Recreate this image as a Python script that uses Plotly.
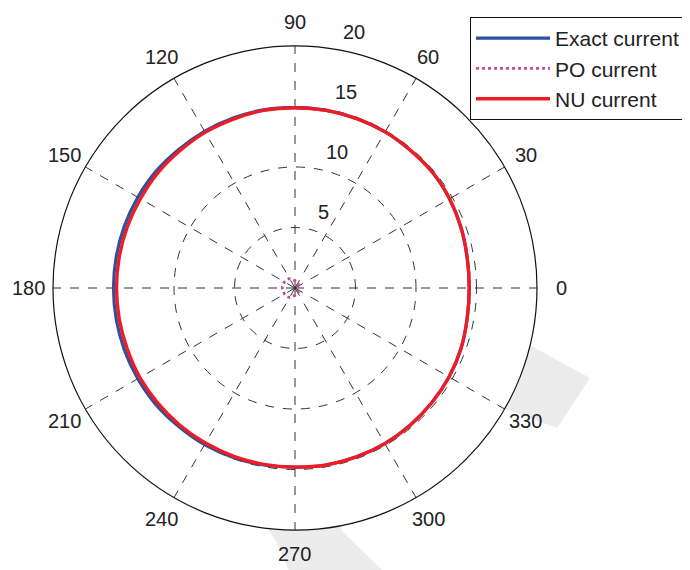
import math
import plotly.graph_objects as go

# ---- data ----
theta_deg = [0, 10, 20, 30, 40, 50, 60, 70, 80, 90, 100, 110, 120, 130, 140, 150, 160, 170, 180,
             190, 200, 210, 220, 230, 240, 250, 260, 270, 280, 290, 300, 310, 320, 330, 340, 350, 360]
exact_current = [14.4, 14.45, 14.6, 14.75, 14.85, 14.85, 14.9, 14.9, 14.9, 14.9, 14.95, 14.95, 14.95,
                 14.95, 15.0, 15.0, 15.0, 15.0, 15.0, 15.0, 15.0, 15.0, 15.0, 14.95, 14.95, 14.9,
                 14.85, 14.8, 14.85, 14.85, 14.85, 14.8, 14.75, 14.7, 14.6, 14.45, 14.4]
nu_current = [14.4, 14.45, 14.6, 14.75, 14.85, 14.85, 14.9, 14.9, 14.9, 14.9, 14.9, 14.85, 14.85,
              14.8, 14.8, 14.75, 14.75, 14.75, 14.75, 14.75, 14.75, 14.8, 14.8, 14.8, 14.8, 14.8,
              14.8, 14.8, 14.85, 14.85, 14.85, 14.8, 14.75, 14.7, 14.6, 14.45, 14.4]
po_theta = [0, 30, 60, 90, 120, 150, 180, 210, 240, 270, 300, 330, 360]
po_current = [0.2, 0.3, 0.5, 0.6, 0.9, 1.0, 1.05, 1.0, 0.9, 0.6, 0.5, 0.3, 0.2]

radial_ticks = [5, 10, 15, 20]
angular_ticks = [0, 30, 60, 90, 120, 150, 180, 210, 240, 270, 300, 330]
r_max = 20

FONT = "Liberation Sans, Arial, Helvetica, sans-serif"
TXT = "#222222"
BODY = 8  # default page margin of the html body, compensated below

W, H = 690, 570
cx, cy, R = 295, 288, 242          # polar centre / radius in page pixels


def px(x, y):
    """page pixel -> paper fraction"""
    return (x - BODY) / W, 1 - (y - BODY) / H


fig = go.Figure()
fig.add_trace(go.Scatterpolar(r=exact_current, theta=theta_deg, mode="lines",
                              name="Exact current\u00a0\u00a0",
                              line=dict(color="#2f4f9f", width=3.2, shape="spline")))
fig.add_trace(go.Scatterpolar(r=po_current, theta=po_theta, mode="lines",
                              name="PO current",
                              line=dict(color="#c0509a", width=2.8, dash="dot", shape="spline")))
fig.add_trace(go.Scatterpolar(r=nu_current, theta=theta_deg, mode="lines",
                              name="NU current",
                              line=dict(color="#ee1c25", width=3.4, shape="spline")))

annotations = []
# radial tick labels (MATLAB style: just beyond each ring at 82 deg)
for v in radial_ticks:
    rr = (v + 0.25) / r_max * R
    ax = cx + rr * math.cos(math.radians(82))
    ay = cy - rr * math.sin(math.radians(82))
    x, y = px(ax, ay)
    annotations.append(dict(x=x, y=y, xref="paper", yref="paper", text=str(v), showarrow=False,
                            xanchor="left", yanchor="middle", xshift=12, yshift=13,
                            font=dict(size=20, color=TXT, family=FONT)))
# angular tick labels centred at 1.1 * R
for a in angular_ticks:
    ax = cx + 1.1 * R * math.cos(math.radians(a))
    ay = cy - 1.1 * R * math.sin(math.radians(a))
    x, y = px(ax, ay)
    annotations.append(dict(x=x, y=y, xref="paper", yref="paper", text=str(a), showarrow=False,
                            xanchor="center", yanchor="middle",
                            font=dict(size=20, color=TXT, family=FONT)))


def poly(points):
    s = ""
    for i, (x, y) in enumerate(points):
        fx, fy = px(x, y)
        s += ("M" if i == 0 else "L") + f"{fx:.4f},{fy:.4f} "
    return s + "Z"


# faint publisher watermark behind the chart
wm = "#ececec"
shapes = [
    dict(type="path", xref="paper", yref="paper", layer="below", fillcolor=wm, line=dict(width=0),
         path=poly([(500, 320), (533, 347), (590, 378), (557, 428), (500, 407), (470, 390)])),
    dict(type="path", xref="paper", yref="paper", layer="below", fillcolor=wm, line=dict(width=0),
         path=poly([(250, 500), (330, 505), (343, 532), (382, 570), (395, 585), (295, 585), (277, 543)])),
]

fig.update_layout(
    width=W, height=H,
    margin=dict(l=0, r=0, t=0, b=0),
    paper_bgcolor="white",
    font=dict(family=FONT, size=20, color=TXT),
    polar=dict(
        domain=dict(x=[(cx - R - BODY) / W, (cx + R - BODY) / W],
                    y=[1 - (cy + R - BODY) / H, 1 - (cy - R - BODY) / H]),
        bgcolor="white",
        radialaxis=dict(range=[0, r_max], tickvals=radial_ticks, showticklabels=False,
                        showline=False, ticks="", gridcolor="#333333", griddash="dash",
                        gridwidth=1),
        angularaxis=dict(rotation=0, direction="counterclockwise", tickvals=angular_ticks,
                         showticklabels=False, ticks="",
                         showline=True, linecolor="#111111", linewidth=1.2,
                         gridcolor="#333333", griddash="dash", gridwidth=1),
    ),
    legend=dict(x=(470 - BODY) / W, y=1 - (17 - BODY) / H, xanchor="left", yanchor="top",
                bordercolor="#111111", borderwidth=1, bgcolor="white",
                font=dict(size=21, family=FONT, color=TXT), itemwidth=74),
    annotations=annotations,
    shapes=shapes,
)

fig.write_html("out.html")
